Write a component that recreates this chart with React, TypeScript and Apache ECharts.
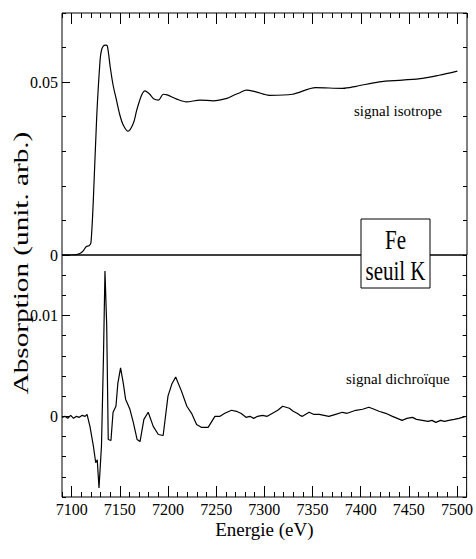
import React, { useEffect, useRef } from 'react';
import * as echarts from 'echarts';

// Energy axis (eV) and isotropic absorption signal (arb. units)
const isoEnergy = [
  7090, 7100, 7105, 7109, 7112, 7115, 7118, 7120, 7122.5, 7126, 7129.5, 7131, 7133, 7135, 7137,
  7140, 7143, 7146.5, 7150, 7153.5, 7158.5, 7164, 7167.5, 7172.5, 7176, 7181, 7185, 7190, 7195,
  7199, 7209, 7219, 7233, 7247, 7261, 7268, 7275, 7281, 7291, 7305, 7329, 7353, 7381, 7395,
  7419, 7443, 7464, 7481, 7500,
];
const isoSignal = [
  0, 0, 0.0001, 0.0005, 0.0012, 0.0024, 0.0027, 0.0035, 0.016, 0.04, 0.0564, 0.0593, 0.0605, 0.0607, 0.0605,
  0.0544, 0.0491, 0.0448, 0.0405, 0.0376, 0.0358, 0.0381, 0.0419, 0.0462, 0.0475, 0.0465, 0.0452, 0.0448, 0.0465,
  0.0463, 0.0451, 0.0443, 0.0448, 0.0446, 0.0453, 0.0462, 0.047, 0.0477, 0.0472, 0.0462, 0.0465, 0.0484, 0.0482, 0.0488,
  0.0501, 0.0506, 0.0511, 0.052, 0.0532,
];

// Energy axis (eV) and dichroic signal (arb. units)
const dichroEnergy = [
  7090, 7093, 7096, 7099, 7102, 7105, 7108, 7111, 7114, 7116, 7119, 7122.5, 7125, 7126.6, 7128.4,
  7131, 7133, 7134.6, 7136.4, 7138, 7140.8, 7143, 7146, 7148, 7150.8, 7153.6, 7156, 7160.5, 7164,
  7168, 7171, 7175, 7179.5, 7184.7, 7190, 7195, 7200, 7204, 7208, 7214, 7219.6, 7224.5, 7229.7,
  7235, 7241.7, 7248.7, 7254, 7259, 7266, 7271, 7275.6, 7281, 7285, 7289, 7293, 7298, 7303, 7308.5,
  7314, 7319, 7326, 7330, 7334, 7337, 7339.6, 7343, 7346.5, 7351, 7357, 7362, 7367, 7374, 7381,
  7386, 7395, 7402, 7408.5, 7414, 7419, 7426, 7433, 7438, 7443, 7448, 7453.7, 7458, 7464, 7470,
  7474, 7478, 7483, 7487, 7491.6, 7497, 7502, 7509,
];
const dichroSignal = [
  -0.0001, 0, -0.0002, 0.0001, -0.0002, 0, -0.0001, 0.0001, 0, 0.0002, -0.001, -0.0029, -0.0046, -0.0043, -0.0071,
  -0.0029, 0.0057, 0.0144, 0.009, -0.0023, -0.0024, 0.0004, 0.001, 0.0033, 0.0048, 0.0033, 0.0017, 0.0007, -0.0006,
  -0.0023, -0.0025, -0.0003, 0.0004, -0.001, -0.0018, -0.0019, 0.002, 0.0032, 0.0039, 0.0025, 0.001, 0.0003, -0.0008,
  -0.0011, -0.0011, 0, 0, 0.0003, 0.0006, 0.0005, 0.0003, -0.0001, 0, -0.0002, 0, 0.0001, 0, 0.0003,
  0.0006, 0.001, 0.0008, 0.0005, 0.0003, 0.0001, 0, 0.0002, 0.0004, 0.0002, 0.0002, 0.0001, 0, 0.0002, 0.0004,
  0.0003, 0.0006, 0.0007, 0.0009, 0.0007, 0.0005, 0.0003, 0, -0.0002, -0.0004, -0.0002, -0.0001, -0.0003, -0.0004, -0.0005,
  -0.0004, -0.0006, -0.0004, -0.0005, -0.0004, -0.0003, -0.0002, 0,
];

const xMajorTicks = [7100, 7150, 7200, 7250, 7300, 7350, 7400, 7450, 7500];
const xTickLabels = ['7100', '7150', '7200', '7250', '7300', '7350', '7400', '7450', '7500'];
const topYLabelValues = [0, 0.05];
const topYLabels = ['0', '0.05'];
const bottomYLabelValues = [0, 0.01];
const bottomYLabels = ['0', '0.01'];

const FONT = '"Liberation Serif", "Times New Roman", serif';

function labelFor(values: number[], labels: string[]) {
  return (v: number) => {
    for (let i = 0; i < values.length; i++) {
      if (Math.abs(v - values[i]) < 1e-9) return labels[i];
    }
    return '';
  };
}

export default function App() {
  const ref = useRef<HTMLDivElement>(null);

  useEffect(() => {
    if (!ref.current) return;
    const chart = echarts.init(ref.current, undefined, { renderer: 'svg' });
    const black = '#000';
    const tickStyle = { color: black, width: 1 };
    const noLine = { show: false, onZero: false };
    const noSplit = { show: false };

    const xBase = { type: 'value', min: 7090, max: 7510, axisLine: noLine, splitLine: noSplit };

    const option: any = {
      animation: false,
      backgroundColor: '#fff',
      textStyle: { fontFamily: FONT, color: black },
      grid: [
        { left: 62, top: 13, width: 405, height: 242, show: true, borderColor: black, borderWidth: 1, backgroundColor: 'transparent' },
        { left: 62, top: 255, width: 405, height: 242, show: true, borderColor: black, borderWidth: 1, backgroundColor: 'transparent' },
      ],
      xAxis: [
        { ...xBase, gridIndex: 0, position: 'top', interval: 10,
          axisTick: { inside: true, length: 5, lineStyle: tickStyle }, axisLabel: { show: false } },
        { ...xBase, gridIndex: 0, position: 'top',
          axisTick: { inside: true, length: 11, customValues: xMajorTicks, lineStyle: tickStyle }, axisLabel: { show: false } },
        { ...xBase, gridIndex: 1, position: 'bottom', interval: 10,
          axisTick: { inside: true, length: 5, lineStyle: tickStyle },
          axisLabel: { show: true, customValues: xMajorTicks, formatter: labelFor(xMajorTicks, xTickLabels),
            fontFamily: FONT, fontSize: 16, color: black, margin: 4 },
          name: 'Energie (eV)', nameLocation: 'middle', nameGap: 23,
          nameTextStyle: { fontFamily: FONT, fontSize: 19, color: black } },
        { ...xBase, gridIndex: 1, position: 'bottom',
          axisTick: { inside: true, length: 11, customValues: xMajorTicks, lineStyle: tickStyle }, axisLabel: { show: false } },
      ],
      yAxis: [
        { type: 'value', gridIndex: 0, position: 'left', min: 0, max: 0.07, interval: 0.01,
          axisLine: noLine, splitLine: noSplit,
          axisTick: { inside: true, length: 4, lineStyle: tickStyle },
          axisLabel: { show: true, customValues: topYLabelValues, formatter: labelFor(topYLabelValues, topYLabels),
            fontFamily: FONT, fontSize: 16, color: black, margin: 4 } },
        { type: 'value', gridIndex: 0, position: 'left', min: 0, max: 0.07,
          axisLine: noLine, splitLine: noSplit,
          axisTick: { inside: true, length: 8, customValues: topYLabelValues, lineStyle: tickStyle }, axisLabel: { show: false } },
        { type: 'value', gridIndex: 0, position: 'right', min: 0, max: 0.07, interval: 0.01,
          axisLine: noLine, splitLine: noSplit,
          axisTick: { inside: true, length: 4, lineStyle: tickStyle }, axisLabel: { show: false } },
        { type: 'value', gridIndex: 1, position: 'left', min: -0.008, max: 0.016, interval: 0.002,
          axisLine: noLine, splitLine: noSplit,
          axisTick: { inside: true, length: 4, lineStyle: tickStyle },
          axisLabel: { show: true, customValues: bottomYLabelValues, formatter: labelFor(bottomYLabelValues, bottomYLabels),
            fontFamily: FONT, fontSize: 16, color: black, margin: 4 } },
        { type: 'value', gridIndex: 1, position: 'left', min: -0.008, max: 0.016,
          axisLine: noLine, splitLine: noSplit,
          axisTick: { inside: true, length: 8, customValues: bottomYLabelValues, lineStyle: tickStyle }, axisLabel: { show: false } },
        { type: 'value', gridIndex: 1, position: 'right', min: -0.008, max: 0.016, interval: 0.002,
          axisLine: noLine, splitLine: noSplit,
          axisTick: { inside: true, length: 4, lineStyle: tickStyle }, axisLabel: { show: false } },
      ],
      series: [
        { name: 'signal isotrope', type: 'line', xAxisIndex: 0, yAxisIndex: 0,
          data: isoEnergy.map((e, i) => [e, isoSignal[i]]),
          showSymbol: false, smooth: 0.3, lineStyle: { color: black, width: 1.2 }, silent: true },
        { name: 'signal dichroïque', type: 'line', xAxisIndex: 2, yAxisIndex: 3,
          data: dichroEnergy.map((e, i) => [e, dichroSignal[i]]),
          showSymbol: false, smooth: false, lineStyle: { color: black, width: 1.2 }, silent: true },
      ],
      graphic: [
        { type: 'text', x: 21, y: 263, rotation: Math.PI / 2, scaleX: 1.46, z: 50,
          style: { text: 'Absorption (unit. arb.)', fontFamily: FONT, fontSize: 20, fill: black, align: 'center', verticalAlign: 'middle' } },
        { type: 'text', x: 354, y: 111, z: 50,
          style: { text: 'signal isotrope', fontFamily: FONT, fontSize: 15, fill: black, align: 'left', verticalAlign: 'middle' } },
        { type: 'text', x: 346, y: 379, z: 50,
          style: { text: 'signal dichroïque', fontFamily: FONT, fontSize: 15, fill: black, align: 'left', verticalAlign: 'middle' } },
        { type: 'rect', z: 100, shape: { x: 361, y: 219, width: 69, height: 69 },
          style: { fill: '#fff', stroke: black, lineWidth: 1 } },
        { type: 'text', x: 395.5, y: 239, scaleY: 1.3, z: 101,
          style: { text: 'Fe', fontFamily: FONT, fontSize: 21, fill: black, align: 'center', verticalAlign: 'middle' } },
        { type: 'text', x: 395.5, y: 270, scaleY: 1.3, z: 101,
          style: { text: 'seuil K', fontFamily: FONT, fontSize: 21, fill: black, align: 'center', verticalAlign: 'middle' } },
      ],
    };

    chart.setOption(option);
    return () => chart.dispose();
  }, []);

  return (
    <div
      ref={ref}
      style={{ position: 'fixed', left: 0, top: 0, width: 476, height: 559, background: '#fff' }}
    />
  );
}
